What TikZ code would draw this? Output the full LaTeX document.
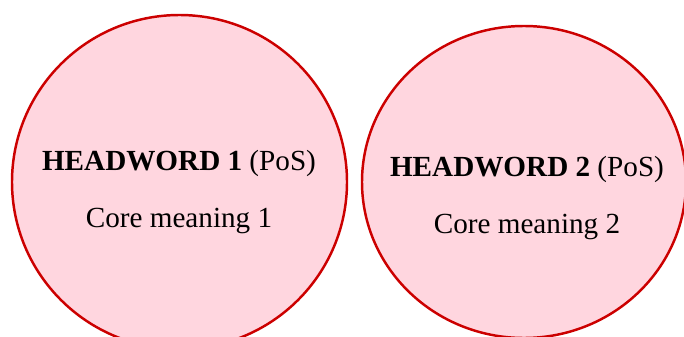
\documentclass[tikz,border=0pt]{standalone}
\usepackage{fontspec}
\setmainfont{Liberation Serif}
\usetikzlibrary{shapes.geometric,positioning}
\definecolor{senseline}{RGB}{204,0,0}
\definecolor{sensefill}{RGB}{255,214,223}
\tikzset{
  sense/.style={draw=senseline, fill=sensefill, ellipse, line width=1.4pt,
    inner sep=0pt},
  sensetext/.style={align=center, inner sep=0pt,
    font=\fontsize{16.6}{32.2}\selectfont}
}

\begin{document}
\begin{tikzpicture}
  \useasboundingbox (0,0) rectangle (13.68,6.72);
  \node[sense, minimum width=6.70cm, minimum height=6.68cm] (hw1) at (3.59,3.08) {};
  \node[sense, minimum width=6.48cm, minimum height=6.24cm] (hw2) at (10.48,3.08) {};

  \node[sensetext] (txt1) at ([xshift=-0.01cm, yshift=-0.20cm]hw1.center)
    {\textbf{HEADWORD 1} (PoS)\\Core meaning 1};
  \node[sensetext] (txt2) at ([xshift=0.06cm, yshift=-0.32cm]hw2.center)
    {\textbf{HEADWORD 2} (PoS)\\Core meaning 2};
\end{tikzpicture}
\end{document}
